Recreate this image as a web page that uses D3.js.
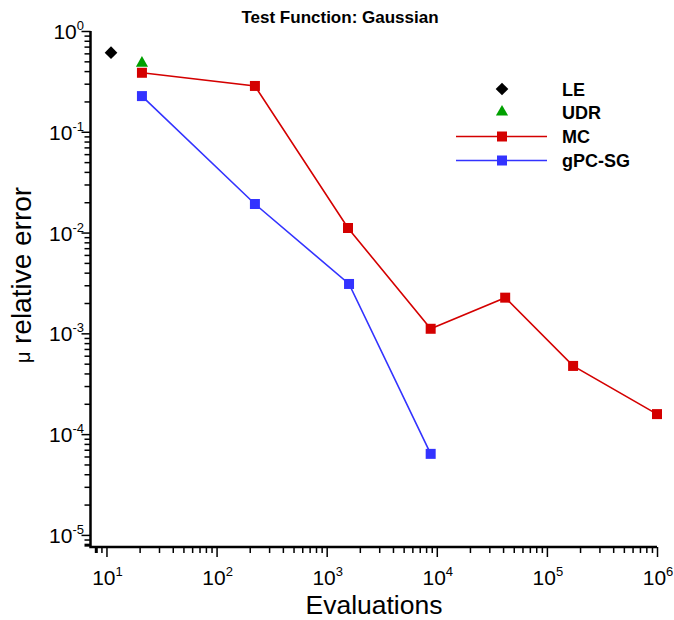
<!DOCTYPE html>
<html>
<head>
  <title>Test Function: Gaussian</title>
  <meta charset="utf-8">
  <script type="text/javascript" src="https://cdnjs.cloudflare.com/ajax/libs/d3/7.8.5/d3.min.js"></script>
  <style>
    body { margin: 0; background: #fff; }
    text { font-family: "Liberation Sans", Arial, sans-serif; fill: #000; }
  </style>
</head>
<body>
  <svg class="chart" width="674" height="620"></svg>

  <script type="text/javascript">
    "use strict";

    // data
    var evalsLE = [11];
    var errLE = [0.61];
    var evalsUDR = [21];
    var errUDR = [0.48];
    var evalsMC = [21, 223, 1561, 8801, 41800, 173000, 1000000];
    var errMC = [0.385, 0.285, 0.0111, 0.00111, 0.00226, 0.000475, 0.000158];
    var evalsGPC = [21, 223, 1596, 8801];
    var errGPC = [0.226, 0.0192, 0.00309, 0.0000637];

    var xMajor = [1, 2, 3, 4, 5, 6];   // exponents
    var yMajor = [0, -1, -2, -3, -4, -5];
    var legendNames = ["LE", "UDR", "MC", "gPC-SG"];

    var red = "#d40000", blue = "#3333ff", green = "#00a000";

    var svg = d3.select("svg.chart");
    var pLeft = 90.5, pRight = 657, pTop = 31, pBottom = 547;

    var x = d3.scaleLog()
              .domain([Math.pow(10, 0.855), 1e6])
              .range([pLeft, pRight]);
    var y = d3.scaleLog()
              .domain([Math.pow(10, -5.12), 1])
              .range([pBottom, pTop]);

    // minor ticks: 2..9 in every decade that falls inside the domain
    function minorTicks(scale) {
      var d = scale.domain(), out = [];
      var lo = Math.floor(Math.log10(d[0])), hi = Math.ceil(Math.log10(d[1]));
      for (var k = lo; k < hi; k++) {
        for (var m = 2; m < 10; m++) {
          var v = m * Math.pow(10, k);
          if (v >= d[0] && v <= d[1]) out.push(v);
        }
      }
      return out;
    }

    // x axis
    var gx = svg.append("g").attr("transform", "translate(0," + pBottom + ")");
    gx.call(d3.axisBottom(x).tickValues(minorTicks(x)).tickSize(6).tickFormat(""));
    gx.append("g").call(d3.axisBottom(x)
        .tickValues(xMajor.map(function(e) { return Math.pow(10, e); }))
        .tickSize(10).tickFormat(""));
    gx.selectAll(".domain").remove();
    gx.selectAll("line").attr("stroke", "#000").attr("stroke-width", 1.5);
    gx.select("g").selectAll("line").attr("stroke-width", 3);

    // y axis
    var gy = svg.append("g").attr("transform", "translate(" + pLeft + ",0)");
    gy.call(d3.axisLeft(y).tickValues(minorTicks(y)).tickSize(6).tickFormat(""));
    gy.append("g").call(d3.axisLeft(y)
        .tickValues(yMajor.map(function(e) { return Math.pow(10, e); }))
        .tickSize(9).tickFormat(""));
    gy.selectAll(".domain").remove();
    gy.selectAll("line").attr("stroke", "#000").attr("stroke-width", 1.5);
    gy.select("g").selectAll("line").attr("stroke-width", 3);

    // axis lines (open box: left and bottom only)
    svg.append("path")
      .attr("d", "M" + pLeft + "," + pTop + "V" + pBottom + "H" + pRight)
      .attr("fill", "none").attr("stroke", "#000").attr("stroke-width", 2.5);

    // tick labels with superscript exponents
    function powLabel(sel, e) {
      sel.append("tspan").text("10");
      sel.append("tspan").attr("dy", -9).attr("font-size", 13)
         .text(e < 0 ? "-" + (-e) : e);
    }
    xMajor.forEach(function(e) {
      var t = svg.append("text")
        .attr("x", x(Math.pow(10, e)) + 1).attr("y", 585)
        .attr("text-anchor", "middle").attr("font-size", 21);
      powLabel(t, e);
    });
    yMajor.forEach(function(e) {
      var t = svg.append("text")
        .attr("x", 84).attr("y", y(Math.pow(10, e)) + 8)
        .attr("text-anchor", "end").attr("font-size", 21);
      powLabel(t, e);
    });

    // titles
    svg.append("text").attr("x", 340).attr("y", 23)
      .attr("text-anchor", "middle").attr("font-size", 17)
      .attr("font-weight", "bold").text("Test Function: Gaussian");
    svg.append("text").attr("x", 374).attr("y", 614)
      .attr("text-anchor", "middle").attr("font-size", 26.5)
      .text("Evaluations");
    svg.append("text")
      .attr("transform", "translate(31,344) rotate(-90)")
      .attr("text-anchor", "start").attr("font-size", 28)
      .text("relative error");
    svg.append("text")
      .attr("transform", "translate(30,363) rotate(-90)")
      .attr("text-anchor", "start").attr("font-size", 20)
      .text("\u03bc");

    // lines
    var line = d3.line()
      .x(function(d) { return x(d[0]); })
      .y(function(d) { return y(d[1]); });
    var mc = d3.zip(evalsMC, errMC);
    var gpc = d3.zip(evalsGPC, errGPC);

    svg.append("path").datum(mc).attr("d", line)
      .attr("fill", "none").attr("stroke", red).attr("stroke-width", 1.6);
    svg.append("path").datum(gpc).attr("d", line)
      .attr("fill", "none").attr("stroke", blue).attr("stroke-width", 1.6);

    var square = d3.symbol().type(d3.symbolSquare).size(100);
    var diamond = d3.symbol().type(d3.symbolSquare).size(80);
    var triangle = d3.symbol().type(d3.symbolTriangle).size(64);

    function marks(data, sym, color, rot) {
      svg.append("g").selectAll("path")
        .data(data).enter().append("path")
        .attr("d", sym)
        .attr("fill", color)
        .attr("transform", function(d) {
          return "translate(" + x(d[0]) + "," + y(d[1]) + ")" + (rot ? " rotate(45)" : "");
        });
    }
    marks(d3.zip(evalsLE, errLE), diamond, "#000", true);
    marks(d3.zip(evalsUDR, errUDR), triangle, green, false);
    marks(mc, square, red, false);
    marks(gpc, square, blue, false);

    // legend
    var legY = [89, 112, 136.5, 160.5];
    var legColors = ["#000", green, red, blue];
    var legSyms = [diamond, triangle, square, square];
    var leg = svg.append("g");
    legendNames.forEach(function(name, i) {
      if (i >= 2) {
        leg.append("line").attr("x1", 456).attr("x2", 547)
          .attr("y1", legY[i]).attr("y2", legY[i])
          .attr("stroke", legColors[i]).attr("stroke-width", 1.6);
      }
      leg.append("path").attr("d", legSyms[i]).attr("fill", legColors[i])
        .attr("transform", "translate(502," + legY[i] + ")" + (i === 0 ? " rotate(45)" : ""));
      leg.append("text").attr("x", 562).attr("y", legY[i] + 6.5)
        .attr("font-size", 18).attr("font-weight", "bold").text(name);
    });
  </script>
</body>
</html>
